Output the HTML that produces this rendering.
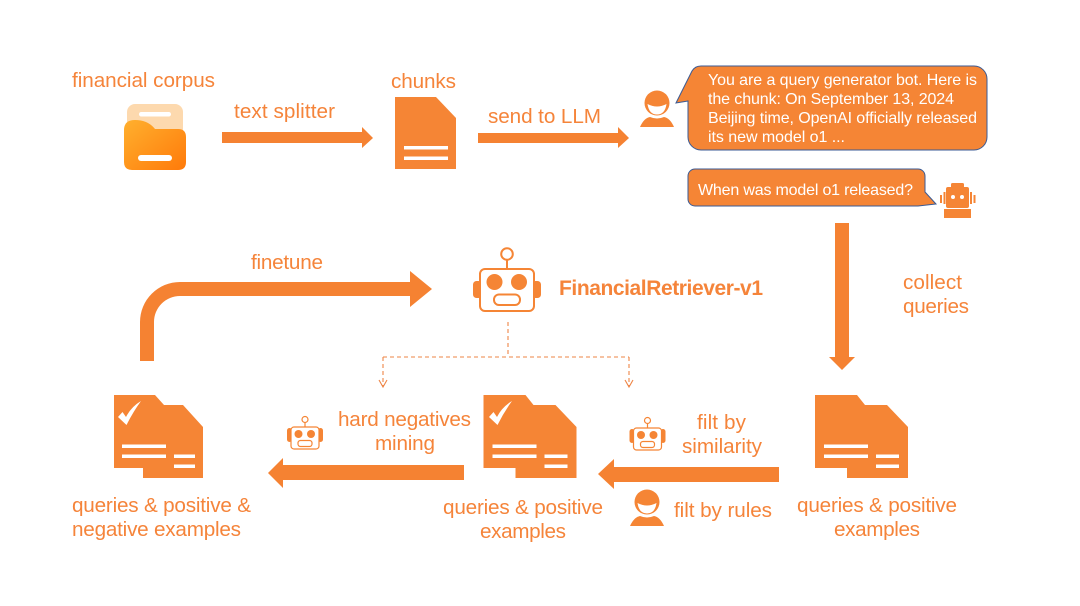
<!DOCTYPE html>
<html lang="en">
<head>
<meta charset="utf-8">
<title>FinancialRetriever pipeline</title>
<style>
html,body{margin:0;padding:0;background:#fff;width:1080px;height:606px;overflow:hidden}
svg{display:block}
text{font-family:"Liberation Sans",sans-serif;font-size:20.700px;fill:#f5843a}
text.w{fill:#fff;font-size:16px}
text.b{font-weight:bold;font-size:21px}
</style>
</head>
<body>
<svg width="1080" height="606" viewBox="0 0 1080 606" xmlns="http://www.w3.org/2000/svg">
<defs>
<linearGradient id="fg" x1="0" y1="0" x2="1" y2="1"><stop offset="0" stop-color="#ffb02e"/><stop offset="1" stop-color="#ff7a0a"/></linearGradient>
<g id="doc" fill="#f58535">
<path d="M0 0H41L50 10H69L89 32V83H29V73H0Z"/>
<g fill="#fff">
<rect x="8" y="49.500" width="44" height="3.500"/>
<rect x="8" y="59.500" width="44" height="3.500"/>
<rect x="60" y="59.500" width="21" height="3.500"/>
<rect x="60" y="69.500" width="21" height="3.500"/>
</g>
</g>
<g id="doc2" fill="#f58535">
<path d="M0 0H42L50 10H72L93 32V83H32V73H0Z"/>
<g fill="#fff">
<rect x="9" y="49.500" width="44" height="3.500"/>
<rect x="9" y="59.500" width="44" height="3.500"/>
<rect x="61" y="59.500" width="23" height="3.500"/>
<rect x="61" y="69.500" width="23" height="3.500"/>
</g>
</g>
<path id="chk" fill="#fff" d="M118 417L122.500 412L126 417Q131 407 141 401Q133 412 126.500 425Z"/>
<g id="bot">
<rect x="-18" y="-10" width="5" height="14" rx="2.500" fill="#f58535"/>
<rect x="13" y="-10" width="5" height="14" rx="2.500" fill="#f58535"/>
<rect x="-14" y="-11" width="28" height="22" rx="3" fill="#fff" stroke="#f58535" stroke-width="1.200"/>
<circle cx="-6.500" cy="-4" r="4" fill="#f58535"/>
<circle cx="6" cy="-4" r="4" fill="#f58535"/>
<rect x="-7" y="2.500" width="14" height="6" rx="2.500" fill="#fff" stroke="#f58535" stroke-width="1.200"/>
<path d="M0 -11V-16" stroke="#f58535" stroke-width="1.200"/>
<circle cx="0" cy="-18.500" r="3" fill="#fff" stroke="#f58535" stroke-width="1.200"/>
</g>
<g id="usr">
<circle cx="0" cy="0" r="12.500" fill="#f58535"/>
<path d="M-9.500 1Q0 6 9.500 1Q8 11.500 0 11.500Q-8 11.500 -9.500 1Z" fill="#fff"/>
<path d="M-17 24Q-13 15 -7 14Q0 17 7 14Q13 15 17 24Z" fill="#f58535"/>
</g>
</defs>

<rect width="1080" height="606" fill="#fff"/>

<!-- Folder -->
<rect x="127" y="104" width="56" height="48" rx="8" fill="#fdd9ae"/>
<rect x="139" y="112" width="32" height="4.500" rx="2.200" fill="#fff"/>
<path d="M124 130Q124 120 135 120Q148 120 155 129H178Q186 129 186 137V162Q186 170 178 170H132Q124 170 124 162Z" fill="url(#fg)"/>
<rect x="138" y="155" width="34" height="6" rx="3" fill="#fff"/>

<!-- Chunks doc -->
<path d="M395 97H436L456 118V169H395Z" fill="#f58535"/>
<rect x="404" y="146" width="44" height="3.500" fill="#fff"/>
<rect x="404" y="156.500" width="44" height="3.500" fill="#fff"/>

<!-- Arrows -->
<g fill="#f58232">
<path d="M222 132H362V127L373 138L362 148V143H222Z"/>
<path d="M478 133H618V127L629 138L618 148V143H478Z"/>
<path d="M835 223H849V357H855L842 370L829 357H835Z"/>
<path d="M140 361V322A40 40 0 0 1 180 282H410V271L432 289L410 307V296H180A26 26 0 0 0 154 322V361Z"/>
<path d="M464 465V480H283V488L268 473L283 458V465Z"/>
<path d="M779 467V482H614V489L598 474L614 459V467Z"/>
</g>

<!-- Bubbles -->
<path d="M701 66H974A13 13 0 0 1 987 79V137A13 13 0 0 1 974 150H701A13 13 0 0 1 688 137V101L676 103L692 71Q695 66 701 66Z" fill="#f58535" stroke="#3a5a94" stroke-width="1"/>
<path d="M695 169H918A7 7 0 0 1 925 176V192L936 204L918 206H695A7 7 0 0 1 688 199V176A7 7 0 0 1 695 169Z" fill="#f58535" stroke="#3a5a94" stroke-width="1"/>

<text class="w" x="708" y="85" textLength="269" lengthAdjust="spacing">You are a query generator bot. Here is</text>
<text class="w" x="708" y="104" textLength="246" lengthAdjust="spacing">the chunk: On September 13, 2024</text>
<text class="w" x="708" y="123" textLength="269" lengthAdjust="spacing">Beijing time, OpenAI officially released</text>
<text class="w" x="708" y="142" textLength="137" lengthAdjust="spacing">its new model o1 ...</text>
<text class="w" x="698" y="195" textLength="215" lengthAdjust="spacing">When was model o1 released?</text>

<!-- User icons -->
<use href="#usr" x="657" y="103"/>
<use href="#usr" x="647" y="502"/>

<!-- Small solid robot -->
<g fill="#f58535">
<rect x="951" y="183" width="13" height="5" rx="1.500"/>
<rect x="946" y="187" width="23" height="21" rx="2"/>
<rect x="944" y="209" width="27" height="9"/>
<rect x="940" y="195" width="2" height="8"/>
<rect x="943.500" y="192" width="2" height="12"/>
<rect x="970" y="192" width="2" height="12"/>
<rect x="973.500" y="195" width="2" height="8"/>
</g>
<circle cx="953" cy="197" r="2" fill="#fff"/>
<circle cx="962" cy="197" r="2" fill="#fff"/>

<!-- Main robot -->
<rect x="473" y="281" width="9" height="17" rx="3.500" fill="#f58535"/>
<rect x="532" y="281" width="9" height="17" rx="3.500" fill="#f58535"/>
<rect x="480" y="269" width="54" height="42" rx="5" fill="#fff" stroke="#f58535" stroke-width="2"/>
<circle cx="494.500" cy="282" r="8" fill="#f58535"/>
<circle cx="519" cy="282" r="8" fill="#f58535"/>
<rect x="494" y="294.500" width="26" height="10.500" rx="5" fill="#fff" stroke="#f58535" stroke-width="2"/>
<path d="M507 260V269" stroke="#f58535" stroke-width="2"/>
<circle cx="507" cy="254" r="5.800" fill="#fff" stroke="#f58535" stroke-width="2"/>

<!-- Dashed connectors -->
<g fill="none" stroke="#ee8546" stroke-width="1.100">
<path d="M508 322V357" stroke-dasharray="4 3"/>
<path d="M383 357H629" stroke-dasharray="4 3"/>
<path d="M383 357V386" stroke-dasharray="4 3"/>
<path d="M629 357V386" stroke-dasharray="4 3"/>
<path d="M379 380L383 387L387 380"/>
<path d="M625 380L629 387L633 380"/>
</g>

<!-- Documents -->
<use href="#doc" x="114" y="395"/>
<use href="#chk"/>
<use href="#doc2" x="483.500" y="395"/>
<use href="#chk" x="371"/>
<use href="#doc2" x="815" y="395"/>

<!-- Outline robots -->
<use href="#bot" x="305" y="438"/>
<use href="#bot" x="647.500" y="439"/>

<!-- Labels -->
<text x="72" y="87" textLength="143" lengthAdjust="spacing">financial corpus</text>
<text x="234" y="118" textLength="101" lengthAdjust="spacing">text splitter</text>
<text x="391" y="88" textLength="65" lengthAdjust="spacing">chunks</text>
<text x="488" y="123" textLength="113" lengthAdjust="spacing">send to LLM</text>
<text x="251" y="269" textLength="72" lengthAdjust="spacing">finetune</text>
<text class="b" x="559" y="295" textLength="204" lengthAdjust="spacing">FinancialRetriever-v1</text>
<text x="903" y="289" textLength="59" lengthAdjust="spacing">collect</text>
<text x="903" y="313" textLength="66" lengthAdjust="spacing">queries</text>
<text x="338" y="426" textLength="133" lengthAdjust="spacing">hard negatives</text>
<text x="375" y="450" textLength="60" lengthAdjust="spacing">mining</text>
<text x="697" y="429" textLength="49" lengthAdjust="spacing">filt by</text>
<text x="682" y="453" textLength="80" lengthAdjust="spacing">similarity</text>
<text x="674" y="517" textLength="98" lengthAdjust="spacing">filt by rules</text>
<text x="72" y="512" textLength="179" lengthAdjust="spacing">queries &amp; positive &amp;</text>
<text x="72" y="536" textLength="169" lengthAdjust="spacing">negative examples</text>
<text x="443" y="514" textLength="160" lengthAdjust="spacing">queries &amp; positive</text>
<text x="480" y="538" textLength="86" lengthAdjust="spacing">examples</text>
<text x="797" y="512" textLength="160" lengthAdjust="spacing">queries &amp; positive</text>
<text x="834" y="536" textLength="86" lengthAdjust="spacing">examples</text>
</svg>
</body>
</html>
